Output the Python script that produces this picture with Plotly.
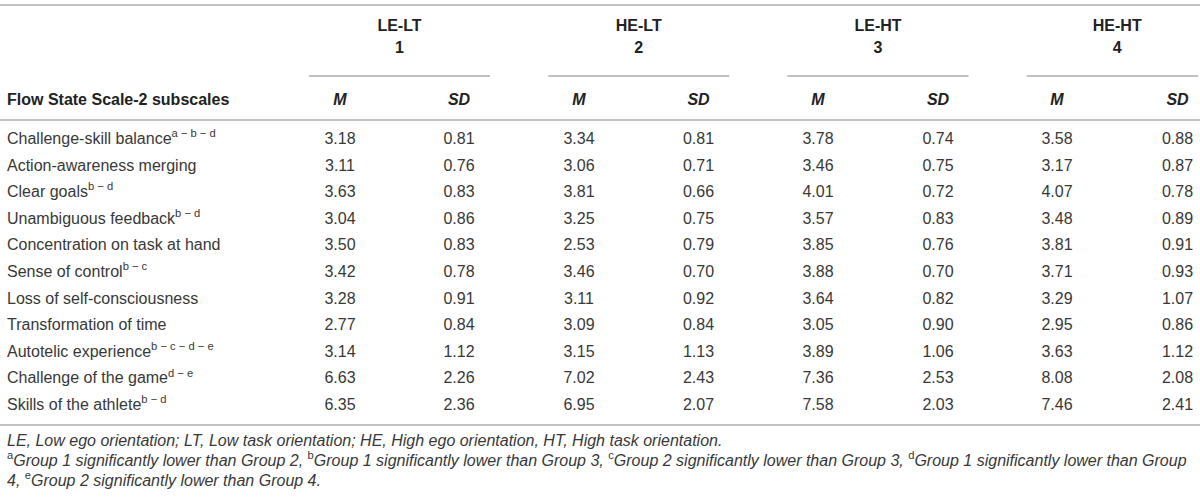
import plotly.graph_objects as go

# table content
subscales = ['Challenge-skill balance', 'Action-awareness merging', 'Clear goals',
             'Unambiguous feedback', 'Concentration on task at hand', 'Sense of control',
             'Loss of self-consciousness', 'Transformation of time', 'Autotelic experience',
             'Challenge of the game', 'Skills of the athlete']
sup_marks = ['a − b − d', '', 'b − d', 'b − d', '', 'b − c', '', '', 'b − c − d − e', 'd − e', 'b − d']

groups = ['LE-LT', 'HE-LT', 'LE-HT', 'HE-HT']
group_nums = ['1', '2', '3', '4']

m_1 = [3.18, 3.11, 3.63, 3.04, 3.50, 3.42, 3.28, 2.77, 3.14, 6.63, 6.35]
sd_1 = [0.81, 0.76, 0.83, 0.86, 0.83, 0.78, 0.91, 0.84, 1.12, 2.26, 2.36]
m_2 = [3.34, 3.06, 3.81, 3.25, 2.53, 3.46, 3.11, 3.09, 3.15, 7.02, 6.95]
sd_2 = [0.81, 0.71, 0.66, 0.75, 0.79, 0.70, 0.92, 0.84, 1.13, 2.43, 2.07]
m_3 = [3.78, 3.46, 4.01, 3.57, 3.85, 3.88, 3.64, 3.05, 3.89, 7.36, 7.58]
sd_3 = [0.74, 0.75, 0.72, 0.83, 0.76, 0.70, 0.82, 0.90, 1.06, 2.53, 2.03]
m_4 = [3.58, 3.17, 4.07, 3.48, 3.81, 3.71, 3.29, 2.95, 3.63, 8.08, 7.46]
sd_4 = [0.88, 0.87, 0.78, 0.89, 0.91, 0.93, 1.07, 0.86, 1.12, 2.08, 2.41]

footnotes = [
    '<i>LE, Low ego orientation; LT, Low task orientation; HE, High ego orientation, HT, High task orientation.</i>',
    '<sup>a</sup><i>Group 1 significantly lower than Group 2, </i><sup>b</sup><i>Group 1 significantly lower than Group 3, </i>'
    '<sup>c</sup><i>Group 2 significantly lower than Group 3, </i><sup>d</sup><i>Group 1 significantly lower than Group</i>',
    '<i>4, </i><sup>e</sup><i>Group 2 significantly lower than Group 4.</i>',
]

# layout (pixel-like coordinates)
W, H = 1200, 499
FONT = 'Liberation Sans'
TXT = '#383838'
HEAD = '#222222'
RULE = '#c2c2c2'
m_x = [340 + 239 * i for i in range(4)]
sd_x = [459 + 239.5 * i for i in range(4)]
row_y = [140 + 26.6 * i for i in range(len(subscales))]
font = dict(family=FONT, size=16, color=TXT)
hfont = dict(family=FONT, size=16, color=HEAD)

fig = go.Figure()

labels = [s + ('<sup>' + t + '</sup>' if t else '') for s, t in zip(subscales, sup_marks)]
fig.add_trace(go.Scatter(x=[7] * len(labels), y=row_y, text=labels, mode='text',
                         textposition='middle right', textfont=font, hoverinfo='skip'))

for mx, sx, mv, sv in zip(m_x, sd_x, [m_1, m_2, m_3, m_4], [sd_1, sd_2, sd_3, sd_4]):
    fig.add_trace(go.Scatter(x=[mx] * len(mv), y=row_y, text=[f'{v:.2f}' for v in mv],
                             mode='text', textposition='middle center', textfont=font, hoverinfo='skip'))
    fig.add_trace(go.Scatter(x=[sx] * len(sv), y=row_y, text=[f'{v:.2f}' for v in sv],
                             mode='text', textposition='middle center', textfont=font, hoverinfo='skip'))

# header
gx = [(a + b) / 2 for a, b in zip(m_x, sd_x)]
fig.add_trace(go.Scatter(x=gx, y=[27] * 4, text=['<b>' + g + '</b>' for g in groups], mode='text',
                         textfont=hfont, hoverinfo='skip'))
fig.add_trace(go.Scatter(x=gx, y=[48.5] * 4, text=['<b>' + n + '</b>' for n in group_nums], mode='text',
                         textfont=hfont, hoverinfo='skip'))
fig.add_trace(go.Scatter(x=m_x + sd_x, y=[100.5] * 8, text=['<b><i>M</i></b>'] * 4 + ['<b><i>SD</i></b>'] * 4,
                         mode='text', textfont=hfont, hoverinfo='skip'))
fig.add_trace(go.Scatter(x=[7], y=[100.5], text=['<b>Flow State Scale-2 subscales</b>'], mode='text',
                         textposition='middle right', textfont=hfont, hoverinfo='skip'))

# footnotes
fig.add_trace(go.Scatter(x=[7] * 3, y=[442, 462, 482], text=footnotes, mode='text',
                         textposition='middle right', textfont=font, hoverinfo='skip'))

# rules
rules = [(0, 1200, 5), (0, 1200, 120), (0, 1200, 425)]
for c in gx:
    rules.append((c - 90.5, min(c + 90.5, 1198), 76))
for x0, x1, y in rules:
    fig.add_shape(type='line', x0=x0, x1=x1, y0=y, y1=y, xref='x', yref='y',
                  line=dict(color=RULE, width=2))

fig.update_xaxes(range=[0, W], visible=False, fixedrange=True)
fig.update_yaxes(range=[H, 0], visible=False, fixedrange=True)
fig.update_layout(width=W, height=H, margin=dict(l=0, r=0, t=0, b=0), showlegend=False,
                  plot_bgcolor='white', paper_bgcolor='white', hovermode=False)

fig.write_html('out.html', config={'displayModeBar': False},
               post_script="document.body.style.margin='0px';document.body.style.overflow='hidden';")
